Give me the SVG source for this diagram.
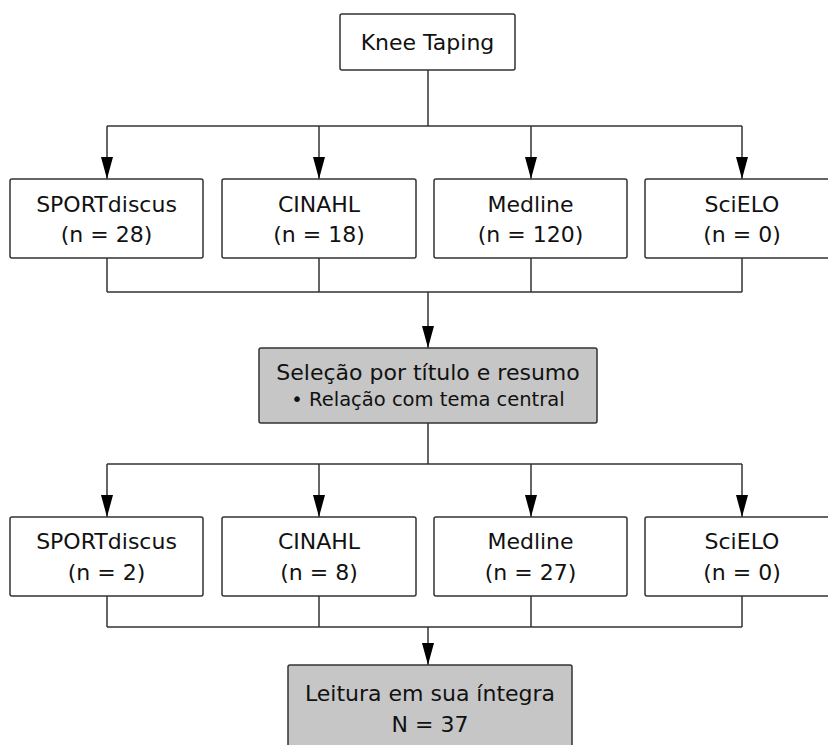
<svg xmlns="http://www.w3.org/2000/svg" width="828" height="745" viewBox="0 0 828 745">
<defs>
<style>
.box{fill:#ffffff;stroke:#333333;stroke-width:1.5}
.gray{fill:#c6c6c6;stroke:#333333;stroke-width:1.5}
.t{font-family:"DejaVu Sans",Verdana,sans-serif;font-size:22px;fill:#111111;text-anchor:middle}
.s{font-size:19.5px}
.ln{fill:none;stroke:#333333;stroke-width:1.5}
</style>
<marker id="ah" markerUnits="userSpaceOnUse" markerWidth="22" markerHeight="12" viewBox="0 0 22 12" refX="22" refY="6" orient="auto">
<path d="M0,0 L22,6 L0,12 Z" fill="#000000"/>
</marker>
</defs>
<rect width="828" height="745" fill="#ffffff"/>
<g id="connectors">
<path class="ln" d="M428,70 V126"/>
<path class="ln" d="M107,126 H742"/>
<path class="ln" d="M107,126 V179" marker-end="url(#ah)"/>
<path class="ln" d="M319,126 V179" marker-end="url(#ah)"/>
<path class="ln" d="M531,126 V179" marker-end="url(#ah)"/>
<path class="ln" d="M742,126 V179" marker-end="url(#ah)"/>
<path class="ln" d="M107,258 V292 M319,258 V292 M531,258 V292 M742,258 V292 M107,292 H742"/>
<path class="ln" d="M428,292 V348" marker-end="url(#ah)"/>
<path class="ln" d="M428,423 V464 M107,464 H742"/>
<path class="ln" d="M107,464 V517" marker-end="url(#ah)"/>
<path class="ln" d="M319,464 V517" marker-end="url(#ah)"/>
<path class="ln" d="M531,464 V517" marker-end="url(#ah)"/>
<path class="ln" d="M742,464 V517" marker-end="url(#ah)"/>
<path class="ln" d="M107,596 V627 M319,596 V627 M531,596 V627 M742,596 V627 M107,627 H742"/>
<path class="ln" d="M428,627 V665" marker-end="url(#ah)"/>
</g>
<g id="knee-taping">
<rect class="box" x="340" y="14" width="175" height="56" rx="2"/>
<text class="t" x="427.5" y="50">Knee Taping</text>
</g>
<g id="sport1">
<rect class="box" x="10" y="179" width="193" height="79" rx="2"/>
<text class="t" x="106.5" y="212">SPORTdiscus</text>
<text class="t" x="106.5" y="242">(n = 28)</text>
</g>
<g id="cinahl1">
<rect class="box" x="222" y="179" width="194" height="79" rx="2"/>
<text class="t" x="319" y="212">CINAHL</text>
<text class="t" x="319" y="242">(n = 18)</text>
</g>
<g id="medline1">
<rect class="box" x="434" y="179" width="193" height="79" rx="2"/>
<text class="t" x="530.5" y="212">Medline</text>
<text class="t" x="530.5" y="242">(n = 120)</text>
</g>
<g id="scielo1">
<rect class="box" x="645" y="179" width="194" height="79" rx="2"/>
<text class="t" x="742" y="212">SciELO</text>
<text class="t" x="742" y="242">(n = 0)</text>
</g>
<g id="selecao">
<rect class="gray" x="259" y="348" width="338" height="75" rx="2"/>
<text class="t" x="428" y="380">Seleção por título e resumo</text>
<text class="t s" x="428" y="406">• Relação com tema central</text>
</g>
<g id="sport2">
<rect class="box" x="10" y="517" width="193" height="79" rx="2"/>
<text class="t" x="106.5" y="549">SPORTdiscus</text>
<text class="t" x="106.5" y="580">(n = 2)</text>
</g>
<g id="cinahl2">
<rect class="box" x="222" y="517" width="194" height="79" rx="2"/>
<text class="t" x="319" y="549">CINAHL</text>
<text class="t" x="319" y="580">(n = 8)</text>
</g>
<g id="medline2">
<rect class="box" x="434" y="517" width="193" height="79" rx="2"/>
<text class="t" x="530.5" y="549">Medline</text>
<text class="t" x="530.5" y="580">(n = 27)</text>
</g>
<g id="scielo2">
<rect class="box" x="645" y="517" width="194" height="79" rx="2"/>
<text class="t" x="742" y="549">SciELO</text>
<text class="t" x="742" y="580">(n = 0)</text>
</g>
<g id="leitura">
<rect class="gray" x="288" y="665" width="284" height="100" rx="2"/>
<text class="t" x="430" y="701">Leitura em sua íntegra</text>
<text class="t" x="430" y="732">N = 37</text>
</g>
</svg>
